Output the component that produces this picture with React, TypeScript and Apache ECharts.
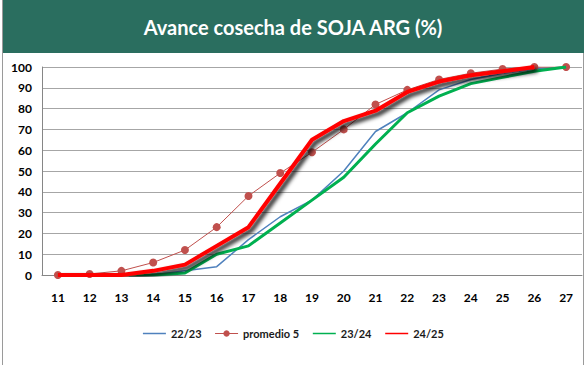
import React, { useEffect, useRef } from "react";
import * as echarts from "echarts";

const weeks = ["11", "12", "13", "14", "15", "16", "17", "18", "19", "20", "21", "22", "23", "24", "25", "26", "27"];
const s2223 = [0, 0, 0, 0, 2, 4, 17, 28, 36, 50, 69, 78, 89, 94, 97, 99, 100];
const promedio5 = [0, 0.5, 2, 6, 12, 23, 38, 49, 59, 70, 82, 89, 94, 97, 99, 100, 100];
const s2324 = [0, 0, 0, 0, 1, 10, 14, 25, 36, 47, 63, 78, 86, 92, 95, 98, 100];
const s2425: (number | null)[] = [0, 0, 0, 2, 5, 14, 23, 44, 65, 74, 79, 88, 93, 96, 98, 100, null];
const seriesNames = ["22/23", "promedio 5", "23/24", "24/25"];
const seriesColors = ["#4F81BD", "#C0504D", "#00B050", "#FF0000"];
const titleText = "Avance cosecha de SOJA ARG (%)";

const FONT = "Lato, 'Open Sans', sans-serif";

export default function App() {
  const ref = useRef<HTMLDivElement>(null);
  useEffect(() => {
    document.body.style.margin = "0";
    const chart = echarts.init(ref.current!, null, { renderer: "svg" });
    chart.setOption({
      animation: false,
      backgroundColor: "#ffffff",
      textStyle: { fontFamily: FONT },
      graphic: [
        { type: "rect", shape: { x: 2, y: 0, width: 582, height: 53 }, style: { fill: "#2A6E5F" }, z: 0 },
        {
          type: "text",
          x: 293,
          y: 27,
          style: {
            text: titleText,
            fill: "#ffffff",
            font: `bold 20px ${FONT}`,
            textAlign: "center",
            textVerticalAlign: "middle",
          },
          z: 1,
        },
        { type: "line", shape: { x1: 2.5, y1: 0, x2: 2.5, y2: 365 }, style: { stroke: "#9a9a9a", lineWidth: 1 } },
        { type: "line", shape: { x1: 583.5, y1: 53, x2: 583.5, y2: 365 }, style: { stroke: "#9a9a9a", lineWidth: 1 } },
      ],
      grid: { left: 42, right: 4, top: 67, bottom: 90, containLabel: false },
      legend: {
        data: seriesNames.map((n, i) => ({
          name: n,
          itemStyle: { opacity: i === 1 ? 1 : 0 },
          lineStyle: { width: i === 1 ? 1 : 1.5, shadowBlur: 0, shadowColor: "transparent", shadowOffsetX: 0, shadowOffsetY: 0 },
        })),
        top: 323,
        left: "center",
        itemWidth: 23,
        itemHeight: 8,
        itemGap: 13,
        textStyle: { fontFamily: FONT, fontSize: 11, fontWeight: "bold", color: "#1a1a1a" },
      },
      xAxis: {
        type: "category",
        data: weeks,
        boundaryGap: true,
        axisLine: { lineStyle: { color: "#868686", width: 1 } },
        axisTick: { show: false },
        axisLabel: { fontFamily: FONT, fontSize: 12, fontWeight: "bold", color: "#000", margin: 16 },
      },
      yAxis: {
        type: "value",
        min: 0,
        max: 100,
        interval: 10,
        axisLine: { show: true, lineStyle: { color: "#868686", width: 1 } },
        axisTick: { show: false },
        splitLine: { lineStyle: { color: "#a6a6a6", width: 1 } },
        axisLabel: { fontFamily: FONT, fontSize: 12, fontWeight: "bold", color: "#000", margin: 10 },
      },
      series: [
        {
          name: seriesNames[0],
          type: "line",
          data: s2223,
          symbol: "none",
          lineStyle: { color: seriesColors[0], width: 1.5 },
          itemStyle: { color: seriesColors[0] },
          z: 2,
        },
        {
          name: seriesNames[1],
          type: "line",
          data: promedio5,
          symbol: "circle",
          symbolSize: 8,
          lineStyle: { color: seriesColors[1], width: 1 },
          itemStyle: { color: seriesColors[1] },
          z: 3,
        },
        {
          name: seriesNames[2],
          type: "line",
          data: s2324,
          symbol: "none",
          lineStyle: { color: seriesColors[2], width: 3 },
          itemStyle: { color: seriesColors[2] },
          z: 4,
        },
        {
          name: seriesNames[3],
          type: "line",
          data: s2425.map((v, i) =>
            i === 15
              ? {
                  value: v,
                  label: {
                    show: true,
                    position: "bottom",
                    offset: [19, 3],
                    formatter: "100%",
                    color: "#FF0000",
                    fontSize: 12,
                    fontFamily: FONT,
                  },
                }
              : v
          ),
          symbol: "none",
          lineStyle: {
            color: seriesColors[3],
            width: 4,
            shadowColor: "rgba(0,0,0,1)",
            shadowBlur: 4,
            shadowOffsetX: 3,
            shadowOffsetY: 3,
          },
          itemStyle: { color: seriesColors[3] },
          z: 5,
        },
      ],
    });
    return () => chart.dispose();
  }, []);
  return <div ref={ref} style={{ width: 586, height: 365 }} />;
}
